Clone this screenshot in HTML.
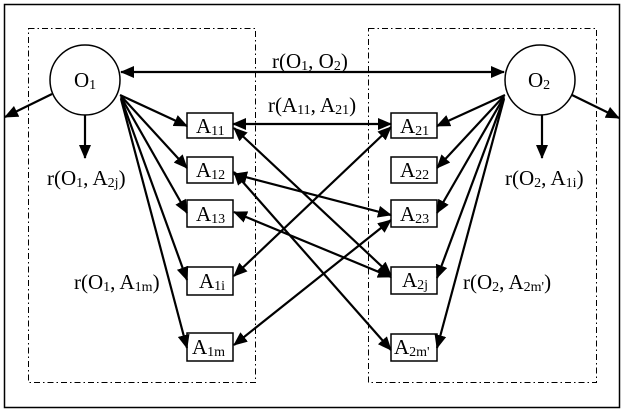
<!DOCTYPE html>
<html><head><style>
body{margin:0;background:#fff}
svg{display:block}
</style></head><body>
<svg width="624" height="413" viewBox="0 0 624 413" font-family="Liberation Serif, serif" font-size="21">
<defs><marker id="a" markerWidth="14" markerHeight="12" refX="13" refY="6" orient="auto-start-reverse" markerUnits="userSpaceOnUse"><path d="M0,0 L14,6 L0,12 z" fill="#000"/></marker></defs>
<rect x="4.5" y="4.5" width="615" height="403" fill="none" stroke="#000" stroke-width="1.5"/>
<g fill="none" stroke="#000" stroke-width="1" stroke-dasharray="6,3,1.5,3">
<rect x="28.5" y="28.5" width="227" height="354"/>
<rect x="368.5" y="28.5" width="228" height="354"/>
</g>
<g fill="#fff" stroke="#000" stroke-width="1.5">
<circle cx="85" cy="80" r="35"/><circle cx="540" cy="80" r="35"/>
<rect x="187" y="113" width="46" height="25"/><rect x="187" y="157" width="46" height="26"/><rect x="187" y="200" width="46" height="27"/><rect x="187" y="267" width="46" height="28"/><rect x="187" y="333" width="46" height="28"/>
<rect x="391" y="113" width="46" height="25"/><rect x="391" y="157" width="46" height="26"/><rect x="391" y="200" width="46" height="27"/><rect x="391" y="267" width="46" height="27"/><rect x="391" y="334" width="46" height="27"/>
</g>
<g stroke="#000" stroke-width="2.2" fill="none" marker-end="url(#a)">
<line x1="121" y1="72" x2="504" y2="72" marker-start="url(#a)"/>
<line x1="233" y1="124" x2="391" y2="124" marker-start="url(#a)"/>
<line x1="234" y1="128" x2="391" y2="275" marker-start="url(#a)"/>
<line x1="234" y1="172" x2="391" y2="350" marker-start="url(#a)"/>
<line x1="234" y1="174" x2="391" y2="215" marker-start="url(#a)"/>
<line x1="234" y1="212" x2="391" y2="277" marker-start="url(#a)"/>
<line x1="391" y1="127" x2="234" y2="276" marker-start="url(#a)"/>
<line x1="391" y1="220" x2="234" y2="345" marker-start="url(#a)"/>
<line x1="52" y1="94" x2="5" y2="117"/>
<line x1="85" y1="115" x2="85" y2="158"/>
<line x1="120" y1="95" x2="187" y2="126"/>
<line x1="121" y1="96" x2="187" y2="168"/>
<line x1="121" y1="97" x2="187" y2="213"/>
<line x1="121" y1="98" x2="187" y2="280"/>
<line x1="121" y1="99" x2="187" y2="348"/>
<line x1="572" y1="95" x2="619" y2="118"/>
<line x1="542" y1="115" x2="542" y2="158"/>
<line x1="505" y1="95" x2="437" y2="126"/>
<line x1="504" y1="96" x2="437" y2="168"/>
<line x1="504" y1="97" x2="437" y2="213"/>
<line x1="504" y1="98" x2="437" y2="278"/>
<line x1="504" y1="99" x2="437" y2="348"/>
</g>
<g>
<text x="74" y="87">O<tspan font-size="14" dy="2">1</tspan></text>
<text x="528" y="87">O<tspan font-size="14" dy="2">2</tspan></text>
<text x="196" y="133">A<tspan font-size="14" dy="2">11</tspan></text>
<text x="196" y="177">A<tspan font-size="14" dy="2">12</tspan></text>
<text x="196" y="221">A<tspan font-size="14" dy="2">13</tspan></text>
<text x="199" y="288">A<tspan font-size="14" dy="2">1i</tspan></text>
<text x="192" y="354">A<tspan font-size="14" dy="2">1m</tspan></text>
<text x="400" y="133">A<tspan font-size="14" dy="2">21</tspan></text>
<text x="400" y="177">A<tspan font-size="14" dy="2">22</tspan></text>
<text x="400" y="221">A<tspan font-size="14" dy="2">23</tspan></text>
<text x="402" y="287">A<tspan font-size="14" dy="2">2j</tspan></text>
<text x="394" y="354">A<tspan font-size="14" dy="2">2m'</tspan></text>
<text x="272" y="68">r(O<tspan font-size="14" dy="2">1</tspan><tspan dy="-2">, O</tspan><tspan font-size="14" dy="2">2</tspan><tspan dy="-2">)</tspan></text>
<text x="268" y="112">r(A<tspan font-size="14" dy="2">11</tspan><tspan dy="-2">, A</tspan><tspan font-size="14" dy="2">21</tspan><tspan dy="-2">)</tspan></text>
<text x="47" y="185">r(O<tspan font-size="14" dy="2">1</tspan><tspan dy="-2">, A</tspan><tspan font-size="14" dy="2">2j</tspan><tspan dy="-2">)</tspan></text>
<text x="505" y="185">r(O<tspan font-size="14" dy="2">2</tspan><tspan dy="-2">, A</tspan><tspan font-size="14" dy="2">1i</tspan><tspan dy="-2">)</tspan></text>
<text x="74" y="289">r(O<tspan font-size="14" dy="2">1</tspan><tspan dy="-2">, A</tspan><tspan font-size="14" dy="2">1m</tspan><tspan dy="-2">)</tspan></text>
<text x="463" y="289">r(O<tspan font-size="14" dy="2">2</tspan><tspan dy="-2">, A</tspan><tspan font-size="14" dy="2">2m'</tspan><tspan dy="-2">)</tspan></text>
</g>
</svg>
</body></html>
